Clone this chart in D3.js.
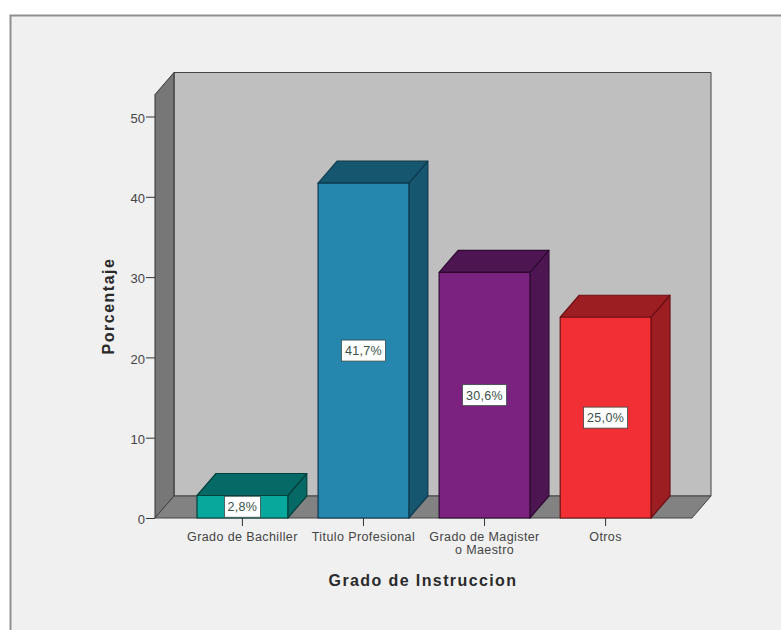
<!DOCTYPE html>
<html>
<head>
<meta charset="utf-8">
<script src="https://cdn.jsdelivr.net/npm/d3@7/dist/d3.min.js"></script>
<style>
  html, body { margin: 0; padding: 0; background: #fff; }
  svg { display: block; }
  text { font-family: "Liberation Sans", Arial, sans-serif; }
</style>
</head>
<body>
<svg id="chart" width="781" height="630"></svg>
<script>
// Education level distribution, percent of respondents
const categories = ["Grado de Bachiller", "Titulo Profesional", "Grado de Magister|o Maestro", "Otros"];
const percentages = [2.8, 41.7, 30.6, 25.0];
const valueLabels = ["2,8%", "41,7%", "30,6%", "25,0%"];
const yTicks = [0, 10, 20, 30, 40, 50];
const frontColors = ["#08a89c", "#2587ad", "#7b2180", "#f22f35"];
const shadeColors = ["#056a66", "#17566f", "#4d1652", "#9c1e22"];
const edgeColors = ["#04403d", "#0d3a4e", "#2e0a33", "#6e1014"];

const svg = d3.select("#chart");

// Panel behind the chart; it runs off the right and bottom of the page
svg.append("rect").attr("x", 10.5).attr("y", 15.5).attr("width", 790).attr("height", 640)
  .attr("fill", "#f0f0f0").attr("stroke", "#8f8f8f").attr("stroke-width", 2);

const y = d3.scaleLinear().domain([0, 50]).range([518, 116.5]);
const yTop = 94.5;                 // front plane extends above the last tick
const x = d3.scaleBand().domain(categories).range([197, 651]).paddingInner(0.25).paddingOuter(0);
const depth = { dx: 19, dy: -22 };
const plot = { left: 155, right: 692, base: y(0) };

const poly = (pts, fill, stroke = "#222", sw = 1) =>
  svg.append("polygon").attr("points", pts.map(p => p.join(",")).join(" "))
    .attr("fill", fill).attr("stroke", stroke).attr("stroke-width", sw)
    .attr("stroke-linejoin", "round");

// Back wall
poly([[plot.left + depth.dx, yTop + depth.dy], [plot.right + depth.dx, yTop + depth.dy],
      [plot.right + depth.dx, plot.base + depth.dy], [plot.left + depth.dx, plot.base + depth.dy]], "#bfbfbf", "#444");
// Left wall
poly([[plot.left, yTop], [plot.left + depth.dx, yTop + depth.dy],
      [plot.left + depth.dx, plot.base + depth.dy], [plot.left, plot.base]], "#777777", "#333");
// Floor
poly([[plot.left, plot.base], [plot.right, plot.base],
      [plot.right + depth.dx, plot.base + depth.dy], [plot.left + depth.dx, plot.base + depth.dy]], "#828282", "#444");

// Bars as extruded boxes
const bars = svg.append("g");
percentages.forEach((v, i) => {
  const x0 = x(categories[i]), x1 = x0 + x.bandwidth(), t = y(v), b = y(0);
  const mark = (pts, fill) => bars.append("polygon")
    .attr("points", pts.map(p => p.join(",")).join(" "))
    .attr("fill", fill).attr("stroke", edgeColors[i]).attr("stroke-width", 1.2).attr("stroke-linejoin", "round");
  mark([[x1, t], [x1 + depth.dx, t + depth.dy], [x1 + depth.dx, b + depth.dy], [x1, b]], shadeColors[i]);
  mark([[x0, t], [x0 + depth.dx, t + depth.dy], [x1 + depth.dx, t + depth.dy], [x1, t]], shadeColors[i]);
  mark([[x0, t], [x1, t], [x1, b], [x0, b]], frontColors[i]);
});

// Value tags centred on the bar fronts
percentages.forEach((v, i) => {
  const cx = x(categories[i]) + x.bandwidth() / 2, cy = (y(v) + y(0)) / 2;
  const w = i === 0 ? 36 : 44;
  svg.append("rect").attr("x", cx - w / 2).attr("y", cy - 10.5)
    .attr("width", w).attr("height", 21).attr("fill", "#fff").attr("stroke", "#3c4a48").attr("stroke-width", 0.8);
  svg.append("text").attr("x", cx).attr("y", cy + 4.5).attr("text-anchor", "middle")
    .attr("font-size", 12.5).attr("letter-spacing", 0.3).attr("fill", "#3a4f48").text(valueLabels[i]);
});

// Y axis
const yAxis = d3.axisLeft(y).tickValues(yTicks).tickSize(9).tickPadding(1);
const gy = svg.append("g").attr("transform", `translate(${plot.left},0)`).call(yAxis);
gy.select(".domain").remove();
gy.selectAll("line").attr("stroke", "#333");
gy.selectAll("text").attr("font-size", 13).attr("fill", "#444").attr("dy", "0.45em")
  .style("font-family", '"Liberation Sans", Arial, sans-serif');

// X axis ticks and wrapped category labels
const xAxisG = svg.append("g");
categories.forEach(c => {
  const cx = x(c) + x.bandwidth() / 2;
  xAxisG.append("line").attr("x1", cx).attr("x2", cx).attr("y1", plot.base).attr("y2", plot.base + 8).attr("stroke", "#333");
  c.split("|").forEach((line, j) => {
    xAxisG.append("text").attr("x", cx).attr("y", plot.base + 23 + j * 13)
      .attr("text-anchor", "middle").attr("font-size", 12.5).attr("letter-spacing", 0.4).attr("fill", "#444").text(line);
  });
});

// Axis titles
svg.append("text").attr("x", 423).attr("y", 586).attr("text-anchor", "middle")
  .attr("font-size", 16).attr("font-weight", "bold").attr("letter-spacing", 1.4).attr("fill", "#2a2a2a")
  .text("Grado de Instruccion");
svg.append("text").attr("transform", "translate(114,306) rotate(-90)").attr("text-anchor", "middle")
  .attr("font-size", 16).attr("font-weight", "bold").attr("letter-spacing", 1.5).attr("fill", "#2a2a2a")
  .text("Porcentaje");
</script>
</body>
</html>
